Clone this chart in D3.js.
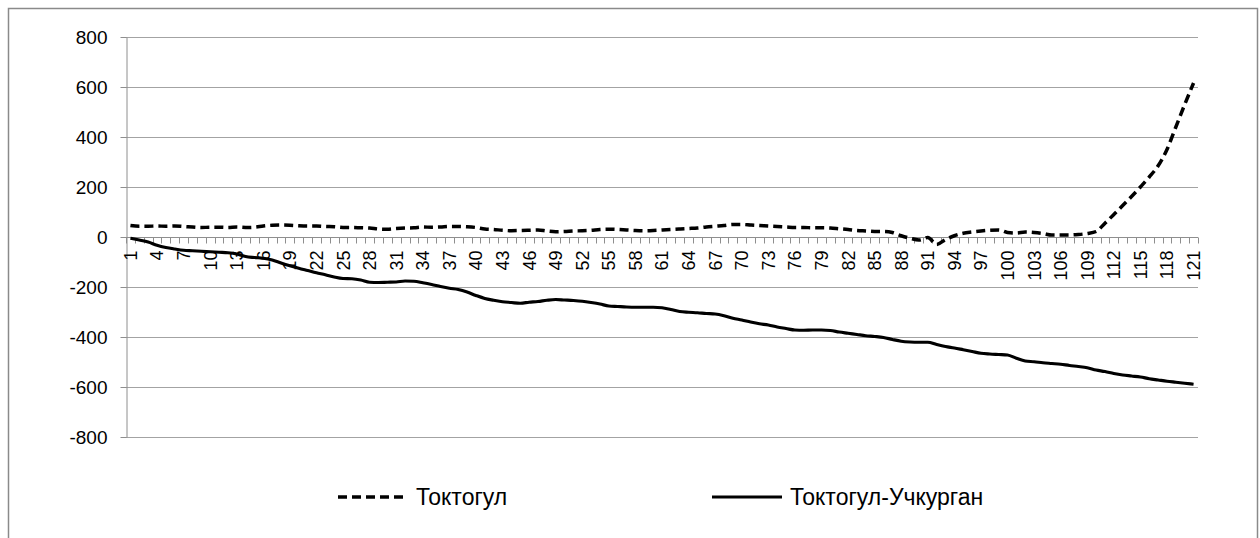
<!DOCTYPE html>
<html>
<head>
<meta charset="utf-8">
<script src="https://cdn.jsdelivr.net/npm/d3@7"></script>
<style>
  html, body { margin: 0; padding: 0; background: #fff; }
  svg { display: block; }
  text { font-family: "Liberation Sans", Arial, sans-serif; fill: #000; }
</style>
</head>
<body>
<svg id="chart" width="1260" height="538"></svg>
<script>
// Category numbers along the x axis (1..121)
const categories = d3.range(1, 122);
const xTickLabels = categories.filter(c => (c - 1) % 3 === 0);
const yTicks = [-800, -600, -400, -200, 0, 200, 400, 600, 800];

const seriesNames = ["Токтогул", "Токтогул-Учкурган"];

// Токтогул
const toktogul = [
  46, 43, 43, 44, 43, 44, 42, 40, 38, 39,
  39, 38, 40, 38, 39, 44, 47, 48, 47, 45,
  44, 44, 42, 41, 38, 38, 37, 36, 32, 31,
  34, 36, 37, 40, 39, 40, 42, 42, 41, 38,
  32, 30, 27, 25, 26, 27, 28, 24, 21, 22,
  24, 25, 27, 30, 31, 30, 28, 26, 25, 26,
  28, 30, 32, 34, 36, 40, 43, 46, 50, 50,
  48, 46, 44, 42, 40, 38, 38, 37, 37, 36,
  33, 30, 26, 24, 22, 22, 18, 5, -5, -12,
  -2, -30, -10, 5, 15, 20, 24, 27, 28, 18,
  16, 20, 18, 14, 8, 8, 8, 10, 14, 22,
  55, 90, 126, 162, 200, 240, 285, 350, 440, 530,
  616
];

// Токтогул-Учкурган
const toktogulUchkurgan = [
  -5, -12, -20, -33, -42, -48, -53, -55, -57, -59,
  -61, -63, -68, -78, -82, -85, -92, -104, -115, -125,
  -134, -143, -151, -160, -166, -167, -172, -181, -182, -181,
  -180, -176, -177, -183, -190, -198, -205, -210, -220, -234,
  -246, -253, -259, -262, -265, -261, -258, -253, -250, -252,
  -254, -257, -262, -268, -276, -278, -280, -281, -281, -281,
  -283, -290, -298, -301, -303, -306, -308, -315, -325, -332,
  -340, -347, -352, -360, -366, -372, -373, -372, -372, -374,
  -380, -385, -390, -395, -398, -402, -410, -417, -420, -421,
  -421, -430, -438, -444, -451, -458, -465, -468, -470, -472,
  -485, -496, -499, -503, -506, -509, -514, -518, -523, -532,
  -538, -546, -552, -556, -560, -567, -572, -577, -581, -585,
  -589
];

const svg = d3.select("#chart");
const plot = { left: 126, right: 1198, top: 37, bottom: 437 };

const x = d3.scaleBand().domain(categories).range([plot.left, plot.right]).padding(0);
const cx = c => x(c) + x.bandwidth() / 2;
const y = d3.scaleLinear().domain([-800, 800]).range([plot.bottom, plot.top]);

const gridColor = "#a3a3a3";
const axisColor = "#8e8e8e";

// outer chart frame
svg.append("rect")
  .attr("x", 8.5).attr("y", 8.5)
  .attr("width", 1249).attr("height", 560)
  .attr("fill", "none").attr("stroke", "#8a8a8a").attr("stroke-width", 1.5);

// horizontal gridlines
svg.append("g").selectAll("line")
  .data(yTicks.filter(v => v !== 0))
  .join("line")
  .attr("x1", plot.left).attr("x2", plot.right)
  .attr("y1", d => Math.round(y(d)) + 0.5).attr("y2", d => Math.round(y(d)) + 0.5)
  .attr("stroke", gridColor).attr("stroke-width", 1);

// y axis, labels with a plain hyphen for negatives
const yAxis = svg.append("g")
  .attr("transform", `translate(${plot.left + 0.5},0)`)
  .call(d3.axisLeft(y).tickValues(yTicks).tickFormat(d => String(d))
    .tickSize(6).tickPadding(13).tickSizeOuter(0));
yAxis.select(".domain").attr("stroke", axisColor);
yAxis.selectAll(".tick line").attr("stroke", axisColor);
yAxis.selectAll(".tick text")
  .attr("font-family", "Liberation Sans, Arial, sans-serif")
  .attr("font-size", 19).attr("fill", "#1a1a1a");

// x axis along zero
const y0 = Math.round(y(0)) + 0.5;
svg.append("line")
  .attr("x1", plot.left).attr("x2", plot.right)
  .attr("y1", y0).attr("y2", y0)
  .attr("stroke", axisColor).attr("stroke-width", 1);

// tick marks between categories
const boundaries = categories.map(c => x(c)).concat([plot.right]);
svg.append("g").selectAll("line")
  .data(boundaries)
  .join("line")
  .attr("x1", d => Math.round(d) + 0.5).attr("x2", d => Math.round(d) + 0.5)
  .attr("y1", y0).attr("y2", y0 + 6)
  .attr("stroke", axisColor).attr("stroke-width", 1);

// category labels, rotated
const xAxis = svg.append("g")
  .attr("transform", `translate(0,${y0})`)
  .call(d3.axisBottom(x).tickValues(xTickLabels).tickSize(0).tickSizeOuter(0));
xAxis.select(".domain").remove();
xAxis.selectAll(".tick text")
  .attr("font-family", "Liberation Sans, Arial, sans-serif")
  .attr("font-size", 18).attr("fill", "#1a1a1a")
  .attr("text-anchor", "end")
  .attr("transform", "rotate(-90)")
  .attr("x", -13).attr("y", 0).attr("dy", "0.36em");

// series lines
const line = d3.line()
  .x((d, i) => cx(categories[i]))
  .y(d => y(d))
  .curve(d3.curveMonotoneX);

svg.append("path")
  .datum(toktogulUchkurgan)
  .attr("d", line)
  .attr("fill", "none").attr("stroke", "#000").attr("stroke-width", 3.2)
  .attr("stroke-linejoin", "round");

svg.append("path")
  .datum(toktogul)
  .attr("d", line)
  .attr("fill", "none").attr("stroke", "#000").attr("stroke-width", 3.5)
  .attr("stroke-dasharray", "9,5");

// legend
const legend = [
  { name: seriesNames[0], dash: "9,5", width: 3.5, x: 338 },
  { name: seriesNames[1], dash: null, width: 3.2, x: 712 }
];
const lg = svg.append("g").selectAll("g").data(legend).join("g")
  .attr("transform", d => `translate(${d.x},497)`);
lg.append("line")
  .attr("x1", 0).attr("x2", 70).attr("y1", 0).attr("y2", 0)
  .attr("stroke", "#000").attr("stroke-width", d => d.width)
  .attr("stroke-dasharray", d => d.dash);
lg.append("text")
  .attr("x", 78).attr("y", 8)
  .attr("font-size", 23).attr("fill", "#1a1a1a")
  .text(d => d.name);
</script>
</body>
</html>
